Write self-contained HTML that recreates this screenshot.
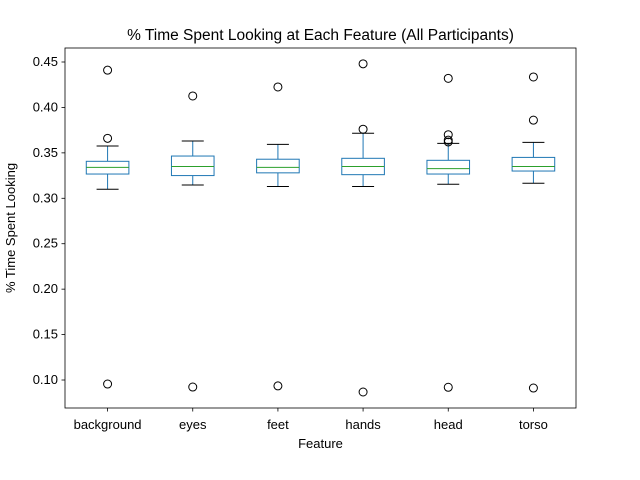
<!DOCTYPE html>
<html><head><meta charset="utf-8"><style>body{margin:0;background:#fff}svg{display:block;font-family:"Liberation Sans","DejaVu Sans",sans-serif}</style></head>
<body>
<svg id="chart" width="640" height="480"></svg>
<script>
const categories=["background","eyes","feet","hands","head","torso"];
const whiskerLow=[0.310,0.3146,0.313,0.313,0.3154,0.3165];
const q1=[0.3267,0.325,0.328,0.326,0.3267,0.330];
const medians=[0.334,0.335,0.334,0.335,0.3326,0.335];
const q3=[0.3407,0.3465,0.343,0.344,0.3418,0.345];
const whiskerHigh=[0.3575,0.363,0.3594,0.3716,0.3605,0.3616];
const outliers=[[0.441,0.366,0.0956],[0.4126,0.0923],[0.4225,0.0935],[0.448,0.376,0.0868],[0.432,0.370,0.364,0.362,0.092],[0.4335,0.386,0.0912]];
const yTicks=[0.10,0.15,0.20,0.25,0.30,0.35,0.40,0.45];
const NS="http://www.w3.org/2000/svg";
const svg=document.getElementById('chart');
const L=65,R=576,T=48,B=408;
const y=v=>62+(0.45-v)*908.6;
const x=i=>L+(R-L)/categories.length*(i+0.5);
function mk(t,a,p){const e=document.createElementNS(NS,t);for(const k in a)e.setAttribute(k,a[k]);(p||svg).appendChild(e);return e;}
function txt(s,a){const e=mk('text',a);e.textContent=s;return e;}
const frame=mk('rect',{x:L,y:T,width:R-L,height:B-T,fill:'none',stroke:'#000','stroke-width':0.8});


yTicks.forEach(v=>{const yy=y(v);
const tk=mk('line',{x1:L-3.5,x2:L,y1:yy,y2:yy,stroke:'#000','stroke-width':0.8});


const lb=txt(v.toFixed(2),{x:L-7,y:yy+4,'text-anchor':'end','font-size':13});

});
categories.forEach((c,i)=>{const cx=x(i);
const g=mk('g',{});


const bl='#1f77b4';
mk('line',{x1:cx,x2:cx,y1:y(whiskerLow[i]),y2:y(q1[i]),stroke:bl,'stroke-width':1},g);
mk('line',{x1:cx,x2:cx,y1:y(q3[i]),y2:y(whiskerHigh[i]),stroke:bl,'stroke-width':1},g);
mk('line',{x1:cx-11,x2:cx+11,y1:y(whiskerLow[i]),y2:y(whiskerLow[i]),stroke:'#000','stroke-width':1},g);
mk('line',{x1:cx-11,x2:cx+11,y1:y(whiskerHigh[i]),y2:y(whiskerHigh[i]),stroke:'#000','stroke-width':1},g);
mk('rect',{x:cx-21.3,y:y(q3[i]),width:42.6,height:y(q1[i])-y(q3[i]),fill:'none',stroke:bl,'stroke-width':1},g);
mk('line',{x1:cx-21.3,x2:cx+21.3,y1:y(medians[i]),y2:y(medians[i]),stroke:'#2ca02c','stroke-width':1},g);
outliers[i].forEach(o=>{const p=mk('circle',{cx:cx,cy:y(o),r:4,fill:'none',stroke:'#000','stroke-width':1},g);

});
mk('line',{x1:cx,x2:cx,y1:B,y2:B+3.5,stroke:'#000','stroke-width':0.8});
const lb=txt(c,{x:cx,y:B+21,'text-anchor':'middle','font-size':13});

});
const t=txt('% Time Spent Looking at Each Feature (All Participants)',{x:(L+R)/2,y:40,'text-anchor':'middle','font-size':15.5});


const xt=txt('Feature',{x:(L+R)/2,y:448,'text-anchor':'middle','font-size':13});


const yt=txt('% Time Spent Looking',{x:0,y:0,'text-anchor':'middle','font-size':13,transform:'translate(15,228) rotate(-90)'});


</script>
</body></html>
